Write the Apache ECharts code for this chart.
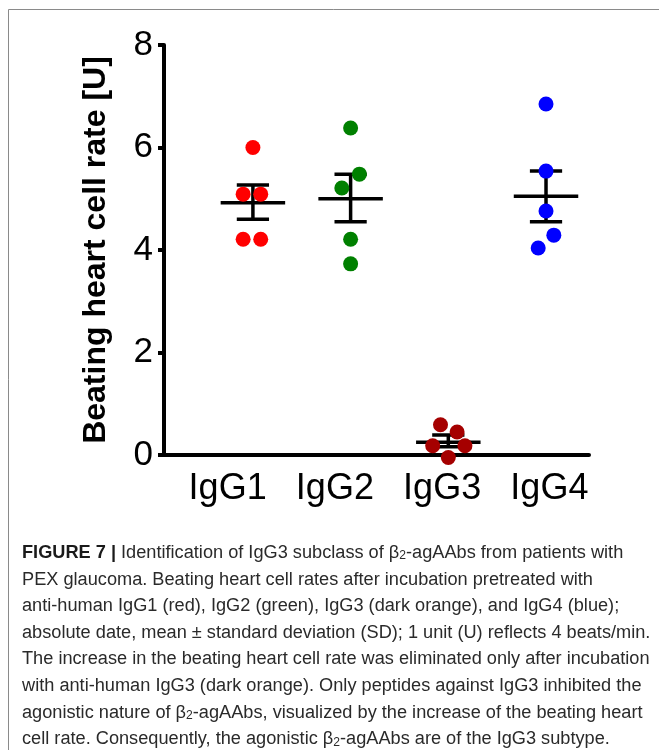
<!DOCTYPE html>
<html><head><meta charset="utf-8">
<script src="https://cdn.jsdelivr.net/npm/echarts@6/dist/echarts.min.js"></script>
<style>html,body{margin:0;padding:0;background:#fff}#c{width:659px;height:750px}</style>
</head><body><div id="c"></div>
<script>
// ---- data ----
const categories = ['IgG1', 'IgG2', 'IgG3', 'IgG4'];
const groupColors = ['#ff0000', '#008000', '#a50000', '#0000ff'];
const igg1Values = [6.0, 5.09, 5.09, 4.21, 4.21];
const igg1Jitter = [0, -0.10, 0.08, -0.10, 0.08];
const igg2Values = [6.38, 5.48, 5.21, 4.21, 3.73];
const igg2Jitter = [0, 0.09, -0.09, 0, 0];
const igg3Values = [0.59, 0.45, 0.18, 0.18, -0.05];
const igg3Jitter = [-0.08, 0.09, -0.16, 0.17, 0];
const igg4Values = [6.85, 5.54, 4.76, 4.29, 4.04];
const igg4Jitter = [0, 0, 0, 0.08, -0.08];
const means = [4.92, 5.00, 0.25, 5.05];
const errLow = [4.60, 4.55, 0.16, 4.55];
const errHigh = [5.27, 5.48, 0.39, 5.54];
const yMin = 0, yMax = 8, yStep = 2;
const yTitle = 'Beating heart cell rate [U]';
const captionLines = [
  '{b|FIGURE 7 |} Identification of IgG3 subclass of β{s|2}-agAAbs from patients with',
  'PEX glaucoma. Beating heart cell rates after incubation pretreated with',
  'anti-human IgG1 (red), IgG2 (green), IgG3 (dark orange), and IgG4 (blue);',
  'absolute date, mean ± standard deviation (SD); 1 unit (U) reflects 4 beats/min.',
  'The increase in the beating heart cell rate was eliminated only after incubation',
  'with anti-human IgG3 (dark orange). Only peptides against IgG3 inhibited the',
  'agonistic nature of β{s|2}-agAAbs, visualized by the increase of the beating heart',
  'cell rate. Consequently, the agonistic β{s|2}-agAAbs are of the IgG3 subtype.'
];

const groups = [
  [igg1Values, igg1Jitter], [igg2Values, igg2Jitter],
  [igg3Values, igg3Jitter], [igg4Values, igg4Jitter]
];
const FONT = "'Liberation Sans', Arial, Helvetica, sans-serif";

const scatterSeries = groups.map(function (g, i) {
  return {
    type: 'scatter', xAxisIndex: 0, yAxisIndex: 0, z: 5, clip: false,
    symbol: 'circle', symbolSize: 15,
    itemStyle: { color: groupColors[i], opacity: 1 },
    data: g[0].map(function (v, k) { return [i + 1 + g[1][k], v]; })
  };
});

const errData = categories.map(function (c, i) { return [i + 1, means[i], errLow[i], errHigh[i]]; });

const errSeries = {
  type: 'custom', xAxisIndex: 0, yAxisIndex: 0, z: 3, clip: false,
  data: errData,
  renderItem: function (params, api) {
    const x = api.value(0);
    const pm = api.coord([x, api.value(1)]);
    const pl = api.coord([x, api.value(2)]);
    const ph = api.coord([x, api.value(3)]);
    const hm = api.size([0.33, 0])[0];
    const hc = api.size([0.165, 0])[0];
    const st = { stroke: '#000', lineWidth: 3.5 };
    return { type: 'group', children: [
      { type: 'line', shape: { x1: pm[0] - hm, y1: pm[1], x2: pm[0] + hm, y2: pm[1] }, style: st },
      { type: 'line', shape: { x1: pl[0], y1: pl[1], x2: ph[0], y2: ph[1] }, style: st },
      { type: 'line', shape: { x1: ph[0] - hc, y1: ph[1], x2: ph[0] + hc, y2: ph[1] }, style: st },
      { type: 'line', shape: { x1: pl[0] - hc, y1: pl[1], x2: pl[0] + hc, y2: pl[1] }, style: st }
    ]};
  }
};

const captionGraphics = captionLines.map(function (t, i) {
  return {
    type: 'text', x: 22, y: 553 + i * 26.6, scaleX: 1.01, z: 10,
    style: {
      text: t, x: 0, y: 0, verticalAlign: 'middle', align: 'left',
      font: "18px " + FONT, fill: '#2a2a2a', lineHeight: 18,
      rich: {
        b: { fontWeight: 'bold', fontSize: 18, fontFamily: FONT, fill: '#1a1a1a', lineHeight: 18 },
        s: { fontSize: 12, fontFamily: FONT, fill: '#2a2a2a', lineHeight: 8, verticalAlign: 'bottom' }
      }
    }
  };
});

const chart = echarts.init(document.getElementById('c'), null, { renderer: 'canvas' });
chart.setOption({
  backgroundColor: '#fff',
  animation: false,
  grid: [
    { left: 164, right: 70, top: 45, bottom: 295 },
    { left: 174, width: 429, top: 45, bottom: 295 }
  ],
  xAxis: [
    { type: 'value', gridIndex: 0, min: 0.09, max: 4.44,
      axisLine: { show: true, onZero: false, lineStyle: { color: '#000', width: 4 } },
      axisTick: { show: false }, axisLabel: { show: false }, splitLine: { show: false } },
    { type: 'category', gridIndex: 1, data: categories,
      axisLine: { show: false }, axisTick: { show: false },
      axisLabel: { fontSize: 36, color: '#000', margin: 16, fontFamily: FONT } }
  ],
  yAxis: [
    { type: 'value', gridIndex: 0, min: yMin, max: yMax, interval: yStep,
      axisLine: { show: true, lineStyle: { color: '#000', width: 4 } },
      axisTick: { show: true, inside: false, length: 6, lineStyle: { color: '#000', width: 4 } },
      axisLabel: { fontSize: 35, color: '#000', margin: 11, fontFamily: FONT },
      splitLine: { show: false },
      name: yTitle, nameLocation: 'middle', nameGap: 52,
      nameTextStyle: { fontSize: 32, fontWeight: 'bold', color: '#000', fontFamily: FONT } },
    { type: 'value', gridIndex: 1, show: false, min: yMin, max: yMax }
  ],
  graphic: [
    { type: 'polyline', shape: { points: [[8.5, 750], [8.5, 9.5], [659, 9.5]] },
      style: { stroke: '#8a8a8a', lineWidth: 1, fill: null }, silent: true }
  ].concat(captionGraphics),
  series: [errSeries].concat(scatterSeries)
});
</script>
</body></html>
